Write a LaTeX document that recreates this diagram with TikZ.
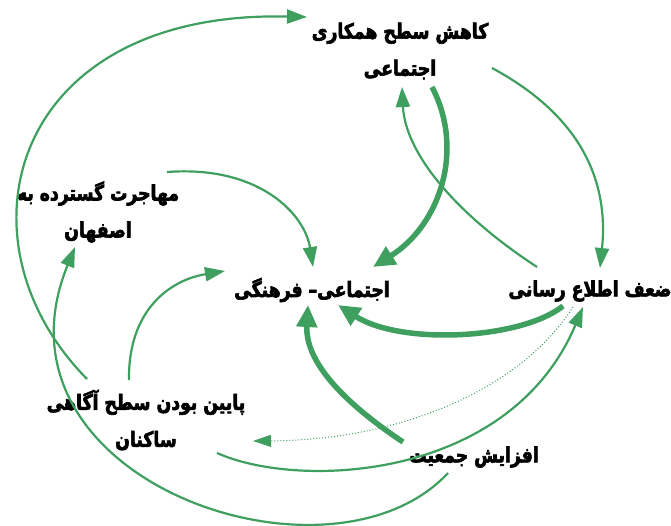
\documentclass[tikz,border=0pt]{standalone}
\usepackage{fontspec}
\usepackage{xcolor}
\usepackage{tikz}
\usetikzlibrary{calc,arrows.meta}
\TeXXeTstate=1
\newfontfamily\farsifont[Script=Arabic, FakeStretch=0.82, BoldFont={DejaVu Sans Bold}, BoldFeatures={FakeBold=3}]{DejaVu Sans}
\definecolor{loopgreen}{HTML}{3E9F5F}
\definecolor{ink}{HTML}{000000}
\tikzset{
  loopLabel/.style={text=ink, font=\farsifont\bfseries\fontsize{21}{37}\selectfont, align=center, inner sep=0pt},
  link/.style={draw=loopgreen, line width=2.2pt, -{Triangle[length=20pt,width=14pt]}},
  strongLink/.style={draw=loopgreen, line width=5.5pt, -{Triangle[length=22pt,width=20pt]}},
  weakLink/.style={draw=loopgreen, line width=1pt, dotted, -{Triangle[length=18pt,width=12pt]}}
}
\begin{document}
\begin{tikzpicture}[x=1pt,y=-1pt]
  \useasboundingbox (0,0) rectangle (671,525);

  \node[loopLabel] (coop) at (400,51) {\beginR کاهش سطح همکاری\endR\\\beginR اجتماعی\endR};
  \node[loopLabel] (migr) at (98,212) {\beginR مهاجرت گسترده به\endR\\\beginR اصفهان\endR};
  \node[loopLabel] (culture) at (312,290) {\beginR اجتماعی– فرهنگی\endR};
  \node[loopLabel] (info) at (590,291) {\beginR ضعف اطلاع رسانی\endR};
  \node[loopLabel] (aware) at (146,420) {\beginR پایین بودن سطح آگاهی\endR\\\beginR ساکنان\endR};
  \node[loopLabel] (popul) at (474,457) {\beginR افزایش جمعیت\endR};

  % thin links
  \draw[link] ($(aware)+(-59,-41)$) .. controls +(-137,-139) and +(-297,-7) .. ($(coop)+(-93,-34)$);
  \draw[link] ($(popul)+(-26,16)$) .. controls +(-118,127) and +(-95,233) .. ($(migr)+(-23,35)$);
  \draw[link] ($(migr)+(69,-40)$) .. controls +(93,-7) and +(-8,-52) .. ($(culture)+(1,-23)$);
  \draw[link] ($(info)+(-53,-24)$) .. controls +(-87,-57) and +(3,63) .. ($(coop)+(2,36)$);
  \draw[link] ($(coop)+(92,17)$) .. controls +(78,42) and +(10,-98) .. ($(info)+(10,-23)$);
  \draw[link] ($(aware)+(71,33)$) .. controls +(83,37) and +(-73,173) .. ($(info)+(-7,16)$);
  \draw[link] ($(aware)+(-17,-40)$) .. controls +(-1,-70) and +(-55,9) .. ($(culture)+(-87,-19)$);

  % strong links
  \draw[strongLink] ($(coop)+(32,36)$) .. controls +(33,63) and +(67,-42) .. ($(culture)+(61,-23)$);
  \draw[strongLink] ($(info)+(-27,15)$) .. controls +(-43,34) and +(62,40) .. ($(culture)+(26,15)$);
  \draw[strongLink] ($(popul)+(-71,-15)$) .. controls +(-63,-42) and +(-3,55) .. ($(culture)+(-4,15)$);

  % weak link
  \draw[weakLink] ($(info)+(-17,16)$) .. controls +(-53,83) and +(147,-1) .. ($(aware)+(107,21)$);
\end{tikzpicture}
\end{document}
